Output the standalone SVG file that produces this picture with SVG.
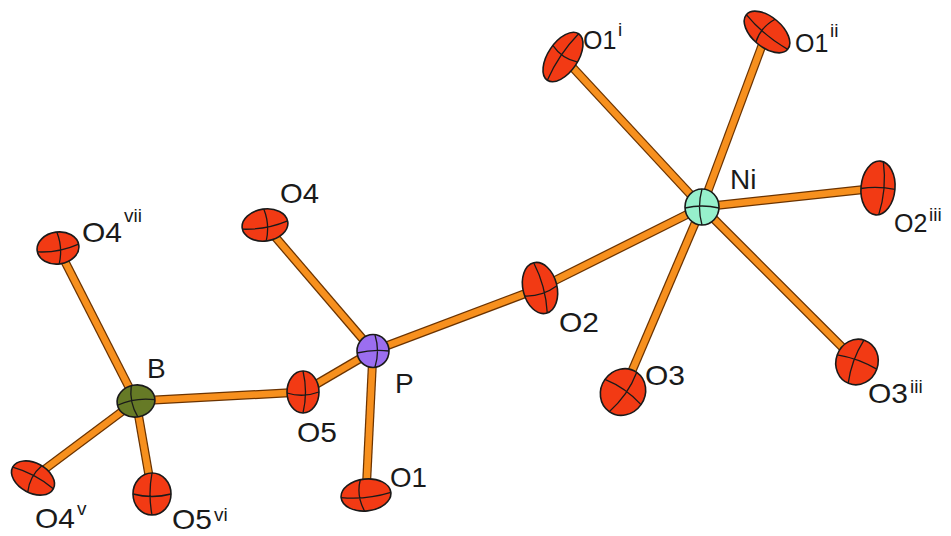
<svg xmlns="http://www.w3.org/2000/svg" width="951" height="536" viewBox="0 0 951 536">
<style>
.bo{stroke:#6b3300;stroke-width:9;stroke-linecap:butt;fill:none}
.bi{stroke:#f7901e;stroke-width:6.5;stroke-linecap:butt;fill:none}
.o{fill:#f23a14;stroke:#1a1a1a;stroke-width:1.6}
.ax{fill:none;stroke:#1a1a1a;stroke-width:1.3}
.lb{font-family:"Liberation Sans",Arial,sans-serif;font-size:28px;fill:#1a1a1a}
.ls{font-family:"Liberation Sans",Arial,sans-serif;font-size:25px;fill:#1a1a1a}
.sp{font-family:"Liberation Sans",Arial,sans-serif;font-size:19px;fill:#1a1a1a}
</style>
<rect width="951" height="536" fill="#ffffff"/>
<g id="connectors">
<g class="bo">
<line x1="136" y1="401" x2="58" y2="248"/>
<line x1="136" y1="401" x2="303" y2="392"/>
<line x1="136" y1="401" x2="33" y2="478"/>
<line x1="136" y1="401" x2="152" y2="493"/>
<line x1="373" y1="351" x2="265" y2="225"/>
<line x1="373" y1="351" x2="303" y2="392"/>
<line x1="373" y1="351" x2="366" y2="495"/>
<line x1="373" y1="351" x2="540" y2="288"/>
<line x1="702" y1="207" x2="540" y2="288"/>
<line x1="702" y1="207" x2="563" y2="57"/>
<line x1="702" y1="207" x2="767" y2="32"/>
<line x1="702" y1="207" x2="878" y2="188"/>
<line x1="702" y1="207" x2="623" y2="392"/>
<line x1="702" y1="207" x2="857" y2="362"/>
</g>
<g class="bi">
<line x1="136" y1="401" x2="58" y2="248"/>
<line x1="136" y1="401" x2="303" y2="392"/>
<line x1="136" y1="401" x2="33" y2="478"/>
<line x1="136" y1="401" x2="152" y2="493"/>
<line x1="373" y1="351" x2="265" y2="225"/>
<line x1="373" y1="351" x2="303" y2="392"/>
<line x1="373" y1="351" x2="366" y2="495"/>
<line x1="373" y1="351" x2="540" y2="288"/>
<line x1="702" y1="207" x2="540" y2="288"/>
<line x1="702" y1="207" x2="563" y2="57"/>
<line x1="702" y1="207" x2="767" y2="32"/>
<line x1="702" y1="207" x2="878" y2="188"/>
<line x1="702" y1="207" x2="623" y2="392"/>
<line x1="702" y1="207" x2="857" y2="362"/>
</g>
</g>

<g id="atom-O4vii">
<g transform="translate(58,248) rotate(-8)">
<ellipse class="o" rx="21" ry="16"/>
<path class="ax" d="M-21,1 Q0,5 21,-1 M1,-16 Q5,0 -1,16"/>
</g>
<text class="lb" x="82" y="242" textLength="40" lengthAdjust="spacingAndGlyphs">O4</text>
<text class="sp" x="124" y="222">vii</text>
</g>

<g id="atom-B">
<g transform="translate(136,401) rotate(-10)">
<ellipse rx="19" ry="16" fill="#667a26" stroke="#1a1a1a" stroke-width="1.6"/>
<path class="ax" d="M-19,1 Q0,-4 19,2 M-2,-16 Q-7,0 -1,16"/>
</g>
<text class="lb" x="147" y="378">B</text>
</g>

<g id="atom-O5">
<g transform="translate(303,392)">
<ellipse class="o" rx="16" ry="21"/>
<path class="ax" d="M-16,1 Q0,6 16,0 M0,-21 Q5,0 0,21"/>
</g>
<text class="lb" x="297" y="442" textLength="40" lengthAdjust="spacingAndGlyphs">O5</text>
</g>

<g id="atom-O4v">
<g transform="translate(33,478) rotate(28)">
<ellipse class="o" rx="23" ry="15"/>
<path class="ax" d="M-23,0 Q0,-5 23,0 M2,-15 Q-4,0 2,15"/>
</g>
<text class="lb" x="35" y="528" textLength="40" lengthAdjust="spacingAndGlyphs">O4</text>
<text class="sp" x="77" y="515">v</text>
</g>

<g id="atom-O5vi">
<g transform="translate(152,494)">
<ellipse class="o" rx="19" ry="21"/>
<path class="ax" d="M-19,0 Q0,5 19,0 M0,-21 Q-4,0 0,21"/>
</g>
<text class="lb" x="172" y="529" textLength="40" lengthAdjust="spacingAndGlyphs">O5</text>
<text class="sp" x="214" y="521">vi</text>
</g>

<g id="atom-O4">
<g transform="translate(265,225) rotate(-8)">
<ellipse class="o" rx="23" ry="16"/>
<path class="ax" d="M-23,1 Q0,5 23,-1 M1,-16 Q5,0 -1,16"/>
</g>
<text class="lb" x="280" y="203" textLength="39" lengthAdjust="spacingAndGlyphs">O4</text>
</g>

<g id="atom-P">
<g transform="translate(373,351)">
<ellipse rx="16" ry="16.5" fill="#9b6ef0" stroke="#1a1a1a" stroke-width="1.6"/>
<path class="ax" d="M-16,2 Q0,-2 16,0 M2,-16 Q7,0 2,16"/>
</g>
<text class="lb" x="395" y="393">P</text>
</g>

<g id="atom-O1">
<g transform="translate(366,495) rotate(-6)">
<ellipse class="o" rx="25" ry="16"/>
<path class="ax" d="M-25,0 Q0,5 25,0 M-4,-16 Q-10,0 -3,16"/>
</g>
<text class="lb" x="390" y="487" textLength="37" lengthAdjust="spacingAndGlyphs">O1</text>
</g>

<g id="atom-O2">
<g transform="translate(540,288) rotate(-14)">
<ellipse class="o" rx="17" ry="26"/>
<path class="ax" d="M-17,4 Q0,9 17,2 M0,-26 Q6,0 1,26"/>
</g>
<text class="lb" x="559" y="332" textLength="40" lengthAdjust="spacingAndGlyphs">O2</text>
</g>

<g id="atom-Ni">
<g transform="translate(702,207)">
<ellipse rx="17" ry="18" fill="#96f0cc" stroke="#1a1a1a" stroke-width="1.6"/>
<path class="ax" d="M-17,1 Q0,-3 17,1 M0,-18 Q-5,0 0,18"/>
</g>
<text class="lb" x="730" y="189">Ni</text>
</g>

<g id="atom-O1i">
<g transform="translate(563,57) rotate(-56)">
<ellipse class="o" rx="28" ry="15"/>
<path class="ax" d="M-28,0 Q0,-5 28,0 M4,-15 Q-2,0 4,15"/>
</g>
<text class="ls" x="583" y="49">O1</text>
<text class="sp" x="618" y="36">i</text>
</g>

<g id="atom-O1ii">
<g transform="translate(767,32) rotate(40)">
<ellipse class="o" rx="27" ry="15"/>
<path class="ax" d="M-27,0 Q0,5 27,0 M-2,-15 Q-8,0 -2,15"/>
</g>
<text class="ls" x="795" y="52">O1</text>
<text class="sp" x="830" y="37">ii</text>
</g>

<g id="atom-O2iii">
<g transform="translate(878,188) rotate(5)">
<ellipse class="o" rx="17" ry="27"/>
<path class="ax" d="M-17,2 Q0,-2 17,0 M3,-27 Q9,0 3,27"/>
</g>
<text class="ls" x="894" y="232">O2</text>
<text class="sp" x="929" y="221">iii</text>
</g>

<g id="atom-O3">
<g transform="translate(623,392) rotate(35)">
<ellipse class="o" rx="22" ry="24"/>
<path class="ax" d="M-22,0 Q0,-5 22,0 M0,-24 Q6,0 0,24"/>
</g>
<text class="lb" x="645" y="385" textLength="40" lengthAdjust="spacingAndGlyphs">O3</text>
</g>

<g id="atom-O3iii">
<g transform="translate(857,362) rotate(20)">
<ellipse class="o" rx="21" ry="23"/>
<path class="ax" d="M-21,0 Q0,-4 21,0 M-1,-23 Q-6,0 -1,23"/>
</g>
<text class="lb" x="868" y="403" textLength="40" lengthAdjust="spacingAndGlyphs">O3</text>
<text class="sp" x="910" y="393">iii</text>
</g>
</svg>
